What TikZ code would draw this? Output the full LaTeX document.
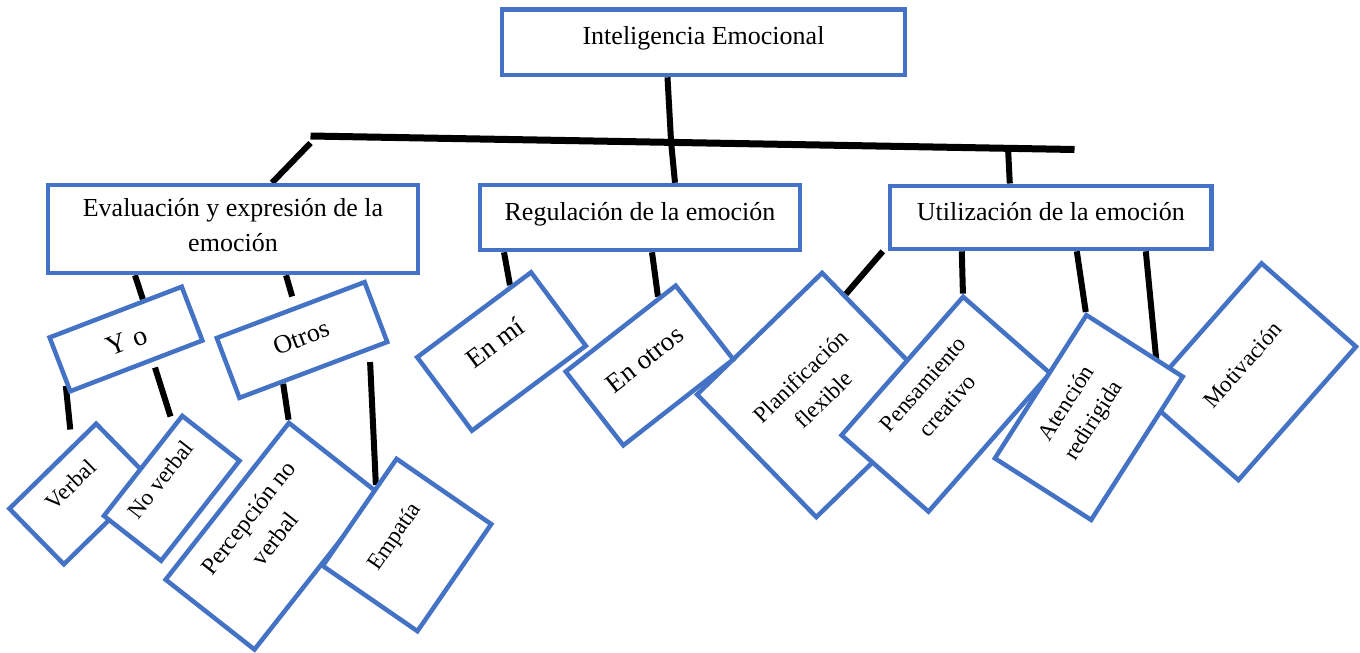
\documentclass[tikz,border=0pt]{standalone}
\usepackage{fontspec}
\setmainfont{Liberation Serif}
\usetikzlibrary{calc,backgrounds}
\definecolor{wordblue}{HTML}{4472C4}
\newcommand{\stacked}[2]{\begin{tabular}[t]{@{}c@{}}#1\\#2\end{tabular}}

\begin{document}
\begin{tikzpicture}[x=1pt, y=-1pt,
  box/.style={draw=wordblue, line width=4.5pt, fill=white, inner sep=0pt, align=center},
  fs/.style 2 args={font=\fontsize{#1pt}{#2pt}\selectfont},
  tb/.style 2 args={text height=#1pt, text depth=#2pt},
  wd/.style={minimum width=#1pt},
  link/.style={line width=6pt}]
  \useasboundingbox (0,0) rectangle (1360,653);

  \node[box, fs={26}{35}, wd=403, tb={34.8}{30.7}] (intel) at (703.5,42.3) {Inteligencia Emocional};
  \node[box, fs={26}{35}, wd=370, tb={31.7}{56.3}] (eval) at (233,229) {\stacked{Evaluación y expresión de la}{emoción}};
  \node[box, fs={26}{35}, wd=320, tb={35}{30}] (reg) at (640,217.5) {Regulación de la emoción};
  \node[box, fs={26}{35}, wd=321.7, tb={34.3}{29}] (util) at (1050.8,217.4) {Utilización de la emoción};

  \node[box, fs={28}{34}, wd=141.5, tb={40}{17.6}, rotate=21] (yo) at (126,339) {Y o};
  \node[box, fs={26}{32}, wd=158, tb={38}{26}, rotate=20.7] (otros) at (302,340) {Otros};
  \node[box, fs={23}{32}, wd=121.4, tb={33.6}{44.2}, rotate=44.4] (verbal) at (80,494) {Verbal};
  \node[box, fs={23}{32}, wd=127, tb={30}{42.7}, rotate=51.9] (noverbal) at (171.7,488.3) {No verbal};
  \node[box, fs={24}{34}, wd=199.4, tb={34.5}{78.5}, rotate=51.8] (percep) at (271.7,536.2) {\stacked{Percepción no}{verbal}};
  \node[box, fs={23}{32}, wd=130, tb={49}{66}, rotate=55.4] (empatia) at (407,545) {Empatía};

  \node[box, fs={27}{34}, wd=142, tb={44}{47.6}, rotate=36.7] (enmi) at (501.5,351.5) {En mí};
  \node[box, fs={23}{32.5}, wd=174.4, tb={67}{104}, rotate=44.2] (planif) at (819.2,395) {\stacked{Planificación}{flexible}};
  \node[box, fs={27}{34}, wd=139.6, tb={47.7}{45.9}, rotate=38] (enotros) at (649.5,365.5) {En otros};
  \node[box, fs={23}{32.4}, wd=184.2, tb={35}{80.7}, rotate=48.7] (pens) at (945.8,404.2) {\stacked{Pensamiento}{creativo}};
  \node[box, fs={23}{32}, wd=177.8, tb={60.5}{65.4}, rotate=48.6] (motiv) at (1250,371.7) {Motivación};
  \node[box, fs={23}{32}, wd=170, tb={37.5}{76.8}, rotate=57.4] (aten) at (1088.8,417.5) {\stacked{Atención}{redirigida}};

  \begin{scope}[on background layer]
    \fill[white] (0,0) rectangle (1360,653);
    \coordinate (barL) at (310.5,136);
    \coordinate (barR) at (1074.5,149.5);
    \draw[line width=7pt] (barL) -- (barR);
    \draw[link] ([xshift=-36pt]intel.south) -- ($(barL)!0.472!(barR)$);
    \draw[link] ([yshift=-7pt]barL) -- ([xshift=39pt]eval.north);
    \draw[link] ($(barL)!0.472!(barR)$) -- ([xshift=35pt]reg.north);
    \draw[link] ($(barL)!0.913!(barR)$) -- ([xshift=-41pt]util.north);

    \draw[link] ([xshift=-98pt]eval.south) -- (yo.46);
    \draw[link, shorten >=10pt] ([xshift=53pt]eval.south) -- (otros.81);
    \draw[link, shorten >=15pt] (yo.-163) -- (verbal.55);
    \draw[link, shorten <=6pt, shorten >=8pt] (yo.-61) -- (noverbal.37);
    \draw[link] (otros.-134) -- (percep.north east);
    \draw[link, shorten <=11pt] (otros.-30) -- (empatia.62);

    \draw[link] ([xshift=-136pt]reg.south) -- (enmi.46);
    \draw[link] ([xshift=12pt]reg.south) -- (enotros.45);

    \draw[link] ([xshift=-168pt]util.south) -- (planif.31);
    \draw[link] ([xshift=-89pt]util.south) -- (pens.north east);
    \draw[link] ([xshift=26pt]util.south) -- (aten.north east);
    \draw[link] ([xshift=95pt]util.south) -- (motiv.135);
  \end{scope}
\end{tikzpicture}
\end{document}
